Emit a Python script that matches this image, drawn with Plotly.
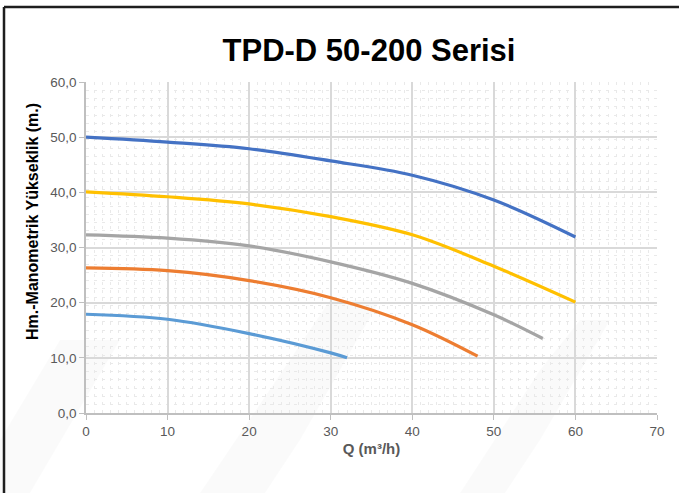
import plotly.graph_objects as go

# ---- data ----
q_blue = [0, 10, 20, 30, 40, 50, 60]
h_blue = [50.0, 49.1, 47.9, 45.7, 43.1, 38.6, 31.9]
q_yellow = [0, 10, 20, 30, 40, 50, 60]
h_yellow = [40.1, 39.2, 37.9, 35.6, 32.3, 26.6, 20.1]
q_grey = [0, 10, 20, 30, 40, 50, 56]
h_grey = [32.3, 31.7, 30.3, 27.4, 23.5, 17.8, 13.5]
q_orange = [0, 10, 20, 30, 40, 48]
h_orange = [26.3, 25.8, 24.0, 20.9, 16.0, 10.3]
q_lblue = [0, 10, 20, 30, 32]
h_lblue = [17.9, 17.0, 14.4, 10.9, 10.0]

x_ticks = [0, 10, 20, 30, 40, 50, 60, 70]
y_ticks = [0, 10, 20, 30, 40, 50, 60]

W, H = 679, 493
L, R, T, B = 86, 657, 82, 413


def px(x):
    return (x - L) / (R - L)


def py(y):
    return (B - y) / (B - T)


fig = go.Figure()
series = [
    (q_blue, h_blue, "#4472C4"),
    (q_yellow, h_yellow, "#FFC000"),
    (q_grey, h_grey, "#A5A5A5"),
    (q_orange, h_orange, "#ED7D31"),
    (q_lblue, h_lblue, "#5B9BD5"),
]
for q, h, c in series:
    fig.add_trace(go.Scatter(x=q, y=h, mode="lines",
                             line=dict(color=c, width=3.2, shape="spline", smoothing=1.0),
                             showlegend=False, hoverinfo="x+y"))

shapes = []
# faint diagonal background bands
bands = [
    [(0, 493), (0, 440), (60, 340), (120, 340), (30, 493)],
    [(200, 493), (283, 370), (330, 300), (380, 300), (300, 440), (265, 493)],
    [(460, 493), (540, 370), (580, 320), (610, 320), (540, 440), (505, 493)],
]
for poly in bands:
    path = "M " + " L ".join(f"{px(a)},{py(b)}" for a, b in poly) + " Z"
    shapes.append(dict(type="path", xref="paper", yref="paper", path=path,
                       fillcolor="rgba(0,0,0,0.018)", line=dict(width=0), layer="below"))
# black frame (top and left edges)
shapes.append(dict(type="line", xref="paper", yref="paper",
                   x0=px(4), y0=py(7), x1=px(679), y1=py(7),
                   line=dict(color="#1e1e1e", width=2.5)))
shapes.append(dict(type="line", xref="paper", yref="paper",
                   x0=px(4), y0=py(7), x1=px(4), y1=py(493),
                   line=dict(color="#1e1e1e", width=2.5)))

fig.update_layout(
    width=W, height=H,
    margin=dict(l=L, r=W - R, t=T, b=H - B),
    paper_bgcolor="white",
    plot_bgcolor="rgba(0,0,0,0)",
    font=dict(family="Liberation Sans, Arial, sans-serif", color="#595959", size=13),
    title=dict(text="<b>TPD-D 50-200 Serisi</b>", x=369 / W, xanchor="center",
               y=1 - 50 / H, yanchor="middle",
               font=dict(size=31, color="#000000", family="Liberation Sans, Arial, sans-serif")),
    shapes=shapes,
    annotations=[dict(text="<b>Hm.-Manometrik Yükseklik (m.)</b>", textangle=-90,
                      xref="paper", yref="paper", x=px(32), y=py(222),
                      xanchor="center", yanchor="middle", showarrow=False,
                      font=dict(size=16, color="#000000"))],
)
fig.update_xaxes(
    range=[0, 70], tickvals=x_ticks, ticktext=[str(v) for v in x_ticks],
    showgrid=True, gridcolor="#d9d9d9", gridwidth=1.5,
    showline=True, linecolor="#bfbfbf", linewidth=1.5,
    ticks="outside", ticklen=5, tickcolor="#bfbfbf",
    tickfont=dict(size=13.5, color="#595959"),
    zeroline=False,
    minor=dict(dtick=1, showgrid=True, gridcolor="#e9e9e9", griddash="3px,5px", gridwidth=1),
    title=dict(text="<b>Q (m³/h)</b>", font=dict(size=15, color="#595959"), standoff=6),
)
fig.update_yaxes(
    range=[0, 60], tickvals=y_ticks, ticktext=[f"{v},0" for v in y_ticks],
    showgrid=True, gridcolor="#d9d9d9", gridwidth=1.5,
    showline=True, linecolor="#bfbfbf", linewidth=1.5,
    ticks="outside", ticklen=5, tickcolor="#bfbfbf",
    tickfont=dict(size=13.5, color="#595959"),
    zeroline=False,
    minor=dict(dtick=1.5, showgrid=True, gridcolor="#e9e9e9", griddash="3px,5px", gridwidth=1),
)

fig.write_html("out.html", config={"displayModeBar": False},
               post_script="document.body.style.margin='0';")
